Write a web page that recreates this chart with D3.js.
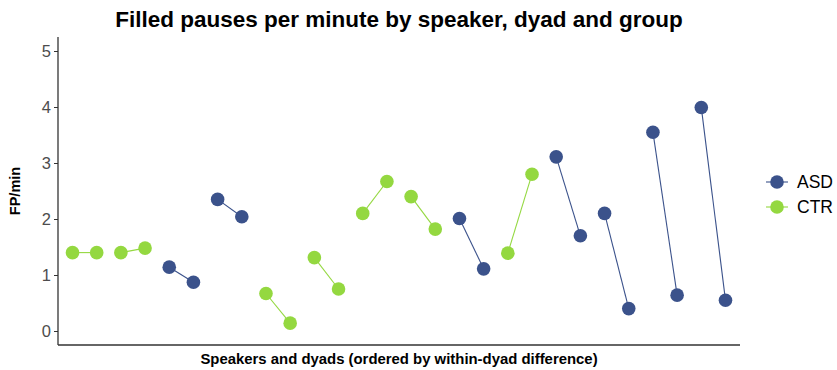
<!DOCTYPE html>
<html>
<head>
<meta charset="utf-8">
<script src="https://cdn.jsdelivr.net/npm/d3@7"></script>
<style>
  html, body { margin: 0; padding: 0; background: #fff; }
  svg { display: block; font-family: "Liberation Sans", Arial, sans-serif; }
</style>
</head>
<body>
<svg id="chart" width="837" height="370"></svg>
<script>
// Dyads, ordered by within-dyad difference
const dyads = ["D01","D02","D03","D04","D05","D06","D07","D08","D09","D10","D11","D12","D13","D14"];
const groups = ["CTR","CTR","ASD","ASD","CTR","CTR","CTR","CTR","ASD","CTR","ASD","ASD","ASD","ASD"];
// Filled pauses per minute for the first and second speaker of each dyad
const speaker1 = [1.40, 1.40, 1.14, 2.35, 0.67, 1.31, 2.10, 2.40, 2.01, 1.39, 3.11, 2.10, 3.55, 3.99];
const speaker2 = [1.40, 1.48, 0.87, 2.04, 0.14, 0.75, 2.67, 1.82, 1.11, 2.80, 1.70, 0.40, 0.64, 0.55];
const yTicks = [0, 1, 2, 3, 4, 5];
const groupNames = ["ASD", "CTR"];
const groupColors = ["#3B528B", "#94D840"];

const svg = d3.select("#chart");
const margin = { left: 58, right: 97, top: 37, bottom: 25 };
const W = 837, H = 370;

// One x slot per speaker
const slots = [];
dyads.forEach((d, i) => {
  slots.push({ key: d + "-1", dyad: d, group: groups[i], value: speaker1[i] });
  slots.push({ key: d + "-2", dyad: d, group: groups[i], value: speaker2[i] });
});

const color = d3.scaleOrdinal().domain(groupNames).range(groupColors);

const x = d3.scalePoint()
  .domain(slots.map(s => s.key))
  .range([margin.left, W - margin.right])
  .padding(0.6);

const y = d3.scaleLinear()
  .domain([-0.25, 5.25])
  .range([H - margin.bottom, margin.top]);

// Y axis
const yAxis = svg.append("g")
  .attr("transform", `translate(${margin.left},0)`)
  .call(d3.axisLeft(y).tickValues(yTicks).tickSize(4).tickPadding(3).tickFormat(d3.format("d")));
yAxis.select(".domain").remove();
yAxis.selectAll(".tick line").attr("stroke", "#333").attr("stroke-width", 1);
yAxis.selectAll(".tick text").attr("fill", "#4d4d4d").attr("font-size", 16.5);

// Axis lines
svg.append("line")
  .attr("x1", margin.left).attr("x2", margin.left)
  .attr("y1", margin.top).attr("y2", H - margin.bottom)
  .attr("stroke", "#333").attr("stroke-width", 1.3);
svg.append("line")
  .attr("x1", margin.left).attr("x2", W - margin.right)
  .attr("y1", H - margin.bottom).attr("y2", H - margin.bottom)
  .attr("stroke", "#333").attr("stroke-width", 1.3);

// Dyad connecting lines
const plot = svg.append("g");
dyads.forEach((d, i) => {
  plot.append("line")
    .attr("x1", x(d + "-1")).attr("y1", y(speaker1[i]))
    .attr("x2", x(d + "-2")).attr("y2", y(speaker2[i]))
    .attr("stroke", color(groups[i]))
    .attr("stroke-width", 1.1);
});

// Speaker points
plot.selectAll("circle")
  .data(slots)
  .join("circle")
  .attr("cx", s => x(s.key))
  .attr("cy", s => y(s.value))
  .attr("r", 6.8)
  .attr("fill", s => color(s.group));

// Title
svg.append("text")
  .attr("x", (margin.left + W - margin.right) / 2)
  .attr("y", 27)
  .attr("text-anchor", "middle")
  .attr("font-size", 22.5)
  .attr("font-weight", "bold")
  .attr("fill", "#000")
  .text("Filled pauses per minute by speaker, dyad and group");

// Axis titles
svg.append("text")
  .attr("x", (margin.left + W - margin.right) / 2)
  .attr("y", 364)
  .attr("text-anchor", "middle")
  .attr("font-size", 14.9)
  .attr("font-weight", "bold")
  .attr("fill", "#000")
  .text("Speakers and dyads (ordered by within-dyad difference)");

svg.append("text")
  .attr("transform", `translate(20,${(margin.top + H - margin.bottom) / 2}) rotate(-90)`)
  .attr("text-anchor", "middle")
  .attr("font-size", 14.5)
  .attr("font-weight", "bold")
  .attr("fill", "#000")
  .text("FP/min");

// Legend
const legend = svg.append("g");
groupNames.forEach((g, i) => {
  const cy = 182 + i * 25;
  legend.append("line")
    .attr("x1", 766).attr("x2", 788)
    .attr("y1", cy).attr("y2", cy)
    .attr("stroke", color(g)).attr("stroke-width", 1.1);
  legend.append("circle")
    .attr("cx", 777).attr("cy", cy).attr("r", 6.8)
    .attr("fill", color(g));
  legend.append("text")
    .attr("x", 797).attr("y", cy + 6)
    .attr("font-size", 17.5)
    .attr("fill", "#000")
    .text(g);
});
</script>
</body>
</html>
